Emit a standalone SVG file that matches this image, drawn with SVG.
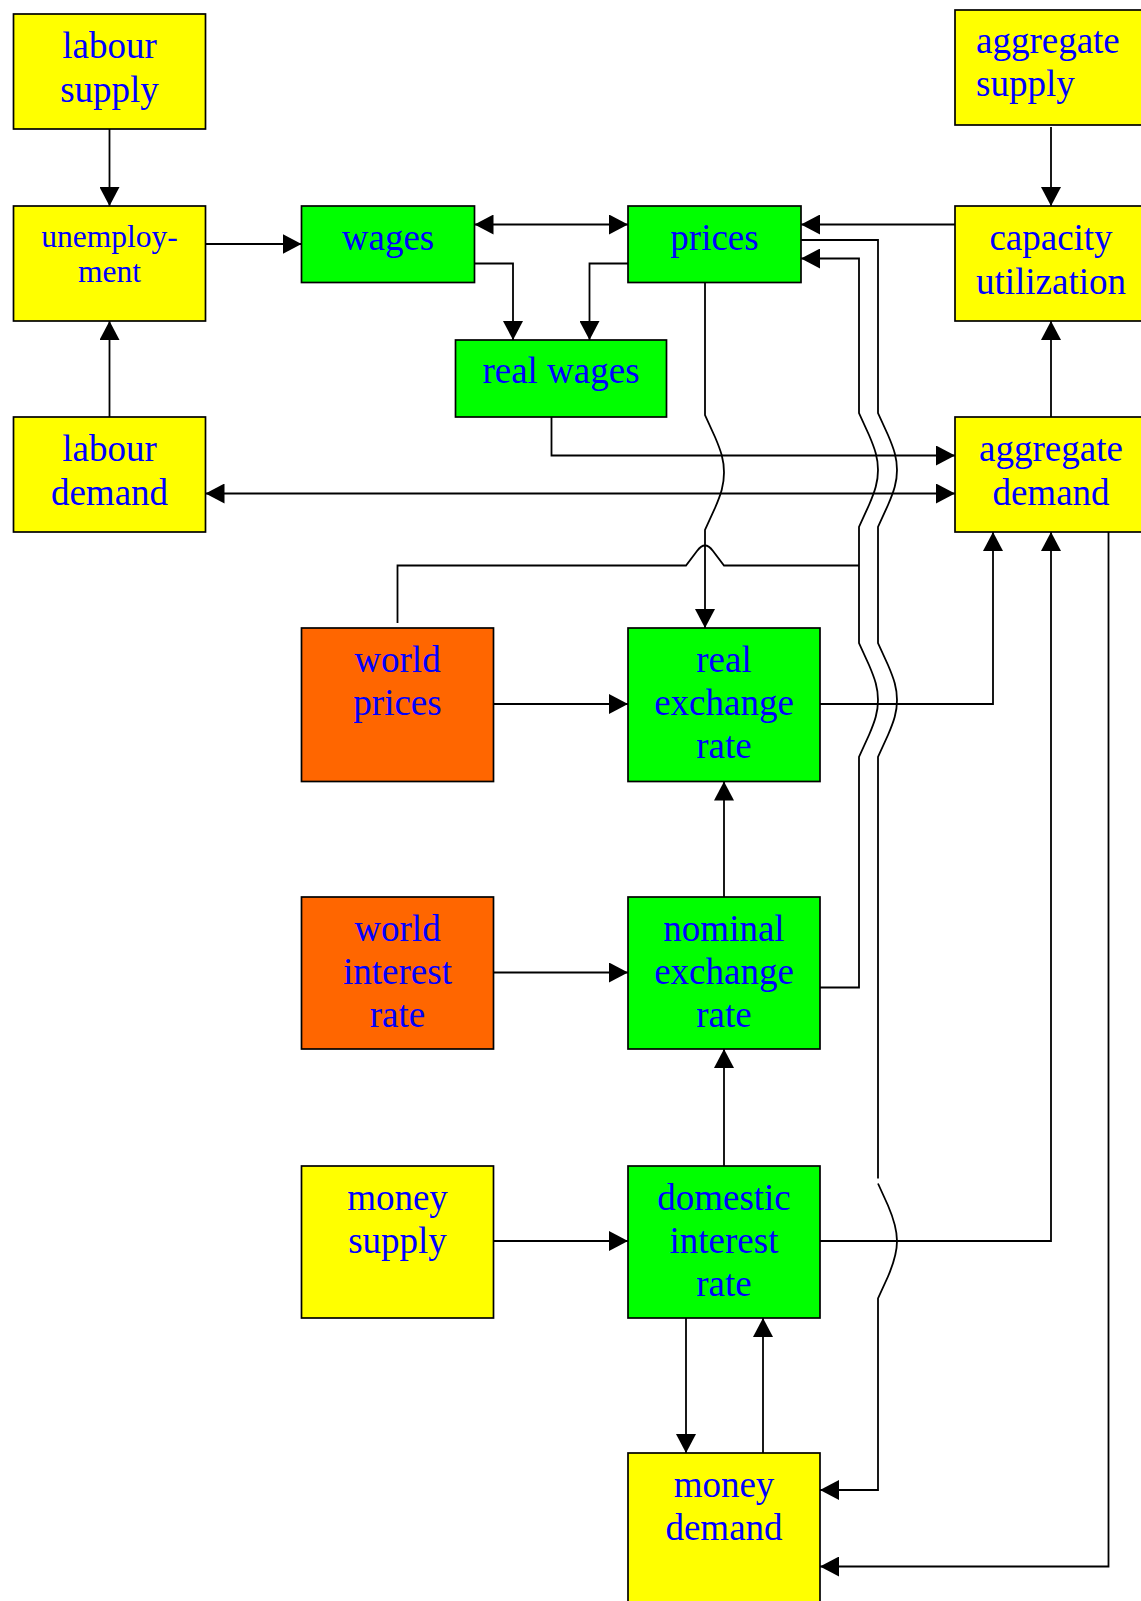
<svg xmlns="http://www.w3.org/2000/svg" width="1141" height="1601" viewBox="0 0 1141 1601">
<style>
.box{stroke:#000;stroke-width:1.7}
.y{fill:#FFFF00}
.g{fill:#00FF00}
.o{fill:#FF6600}
text{font-family:"Liberation Serif","Times New Roman",serif;font-size:37px;fill:#0000FF;text-anchor:middle}
.small{font-size:31.5px}
.left{text-anchor:start}
.c path{fill:none;stroke:#000;stroke-width:1.8}
.e{marker-end:url(#ah)}
.s{marker-start:url(#ah)}
</style>
<defs>
<marker id="ah" markerUnits="userSpaceOnUse" markerWidth="20" markerHeight="20" refX="19" refY="10" orient="auto-start-reverse">
<path d="M0,0 L19,10 L0,20 z" fill="#000"/>
</marker>
</defs>
<rect width="1141" height="1601" fill="#fff"/>
<g id="labour-supply"><rect class="box y" x="13.5" y="14" width="192" height="115"/><text x="109.5" y="58">labour</text><text x="109.5" y="102">supply</text></g>
<g id="unemployment"><rect class="box y" x="13.5" y="206" width="192" height="115"/><text class="small" x="109.5" y="247">unemploy-</text><text class="small" x="109.5" y="282">ment</text></g>
<g id="labour-demand"><rect class="box y" x="13.5" y="417" width="192" height="115"/><text x="109.5" y="461">labour</text><text x="109.5" y="505">demand</text></g>
<g id="wages"><rect class="box g" x="301.5" y="206" width="173" height="76.5"/><text x="388" y="250">wages</text></g>
<g id="prices"><rect class="box g" x="628" y="206" width="173" height="76.5"/><text x="714.5" y="250">prices</text></g>
<g id="real-wages"><rect class="box g" x="455.5" y="340" width="211" height="77"/><text x="561" y="383">real wages</text></g>
<g id="aggregate-supply"><rect class="box y" x="955" y="10" width="192" height="115"/><text class="left" x="976" y="53">aggregate</text><text class="left" x="976" y="96">supply</text></g>
<g id="capacity-utilization"><rect class="box y" x="955" y="206" width="192" height="115"/><text x="1051" y="250">capacity</text><text x="1051" y="294">utilization</text></g>
<g id="aggregate-demand"><rect class="box y" x="955" y="417" width="192" height="115"/><text x="1051" y="461">aggregate</text><text x="1051" y="505">demand</text></g>
<g id="world-prices"><rect class="box o" x="301.5" y="628" width="192" height="153.5"/><text x="397.5" y="672">world</text><text x="397.5" y="715">prices</text></g>
<g id="real-exchange-rate"><rect class="box g" x="628" y="628" width="192" height="153.5"/><text x="724" y="672">real</text><text x="724" y="715">exchange</text><text x="724" y="758">rate</text></g>
<g id="world-interest-rate"><rect class="box o" x="301.5" y="897" width="192" height="152"/><text x="397.5" y="941">world</text><text x="397.5" y="984">interest</text><text x="397.5" y="1027">rate</text></g>
<g id="nominal-exchange-rate"><rect class="box g" x="628" y="897" width="192" height="152"/><text x="724" y="941">nominal</text><text x="724" y="984">exchange</text><text x="724" y="1027">rate</text></g>
<g id="money-supply"><rect class="box y" x="301.5" y="1166" width="192" height="152"/><text x="397.5" y="1210">money</text><text x="397.5" y="1253">supply</text></g>
<g id="domestic-interest-rate"><rect class="box g" x="628" y="1166" width="192" height="152"/><text x="724" y="1210">domestic</text><text x="724" y="1253">interest</text><text x="724" y="1296">rate</text></g>
<g id="money-demand"><rect class="box y" x="628" y="1453" width="192" height="153"/><text x="724" y="1497">money</text><text x="724" y="1540">demand</text></g>
<g id="connectors" class="c">
<path class="e" d="M109.5,129 V206"/>
<path class="e" d="M109.5,417 V321"/>
<path class="e" d="M205.5,244 H301.5"/>
<path class="s e" d="M474.5,224.5 H628"/>
<path class="e" d="M474.5,263.5 H513 V340"/>
<path class="e" d="M628,263.5 H589.5 V340"/>
<path class="e" d="M955,224.5 H801"/>
<path class="e" d="M1051,127 V206"/>
<path class="e" d="M1051,417 V321"/>
<path class="e" d="M551.5,417 V455.5 H955"/>
<path class="s e" d="M205.5,493.5 H955"/>
<path class="e" d="M705,282.5 V415 L715,437 C721,451 724,460 724,472.5 C724,485 721,494 715,508 L705,530 V628"/>
<path class="e" d="M801,240 H878 V413 L888,435 C894,449 897,458 897,470 C897,482 894,491 888,505 L878,527 V643 L888,665 C894,679 897,688 897,700 C897,712 894,721 888,735 L878,757 V1178.5 M878,1183.5 L888,1205.5 C894,1219.5 897,1229 897,1241 C897,1253 894,1262.5 888,1276.5 L878,1298.5 V1490 H820"/>
<path class="s" d="M801,258.5 H859 V413 L869,435 C875,449 878,458 878,470 C878,482 875,491 869,505 L859,527 V643 L869,665 C875,679 878,688 878,700 C878,712 875,721 869,735 L859,757 V987.5 H820"/>
<path d="M397.5,623 V565.5 H686 L697,551 Q705,540 713,551 L724,565.5 H859"/>
<path class="e" d="M493.5,704 H628"/>
<path class="e" d="M820,704 H993 V532"/>
<path class="e" d="M493.5,972.5 H628"/>
<path class="e" d="M724,897 V781.5"/>
<path class="e" d="M493.5,1241 H628"/>
<path class="e" d="M724,1166 V1049"/>
<path class="e" d="M820,1241 H1051 V532"/>
<path class="e" d="M1108.5,532 V1566.5 H820"/>
<path class="e" d="M686,1318 V1453"/>
<path class="e" d="M763,1453 V1318"/>
</g>
</svg>
